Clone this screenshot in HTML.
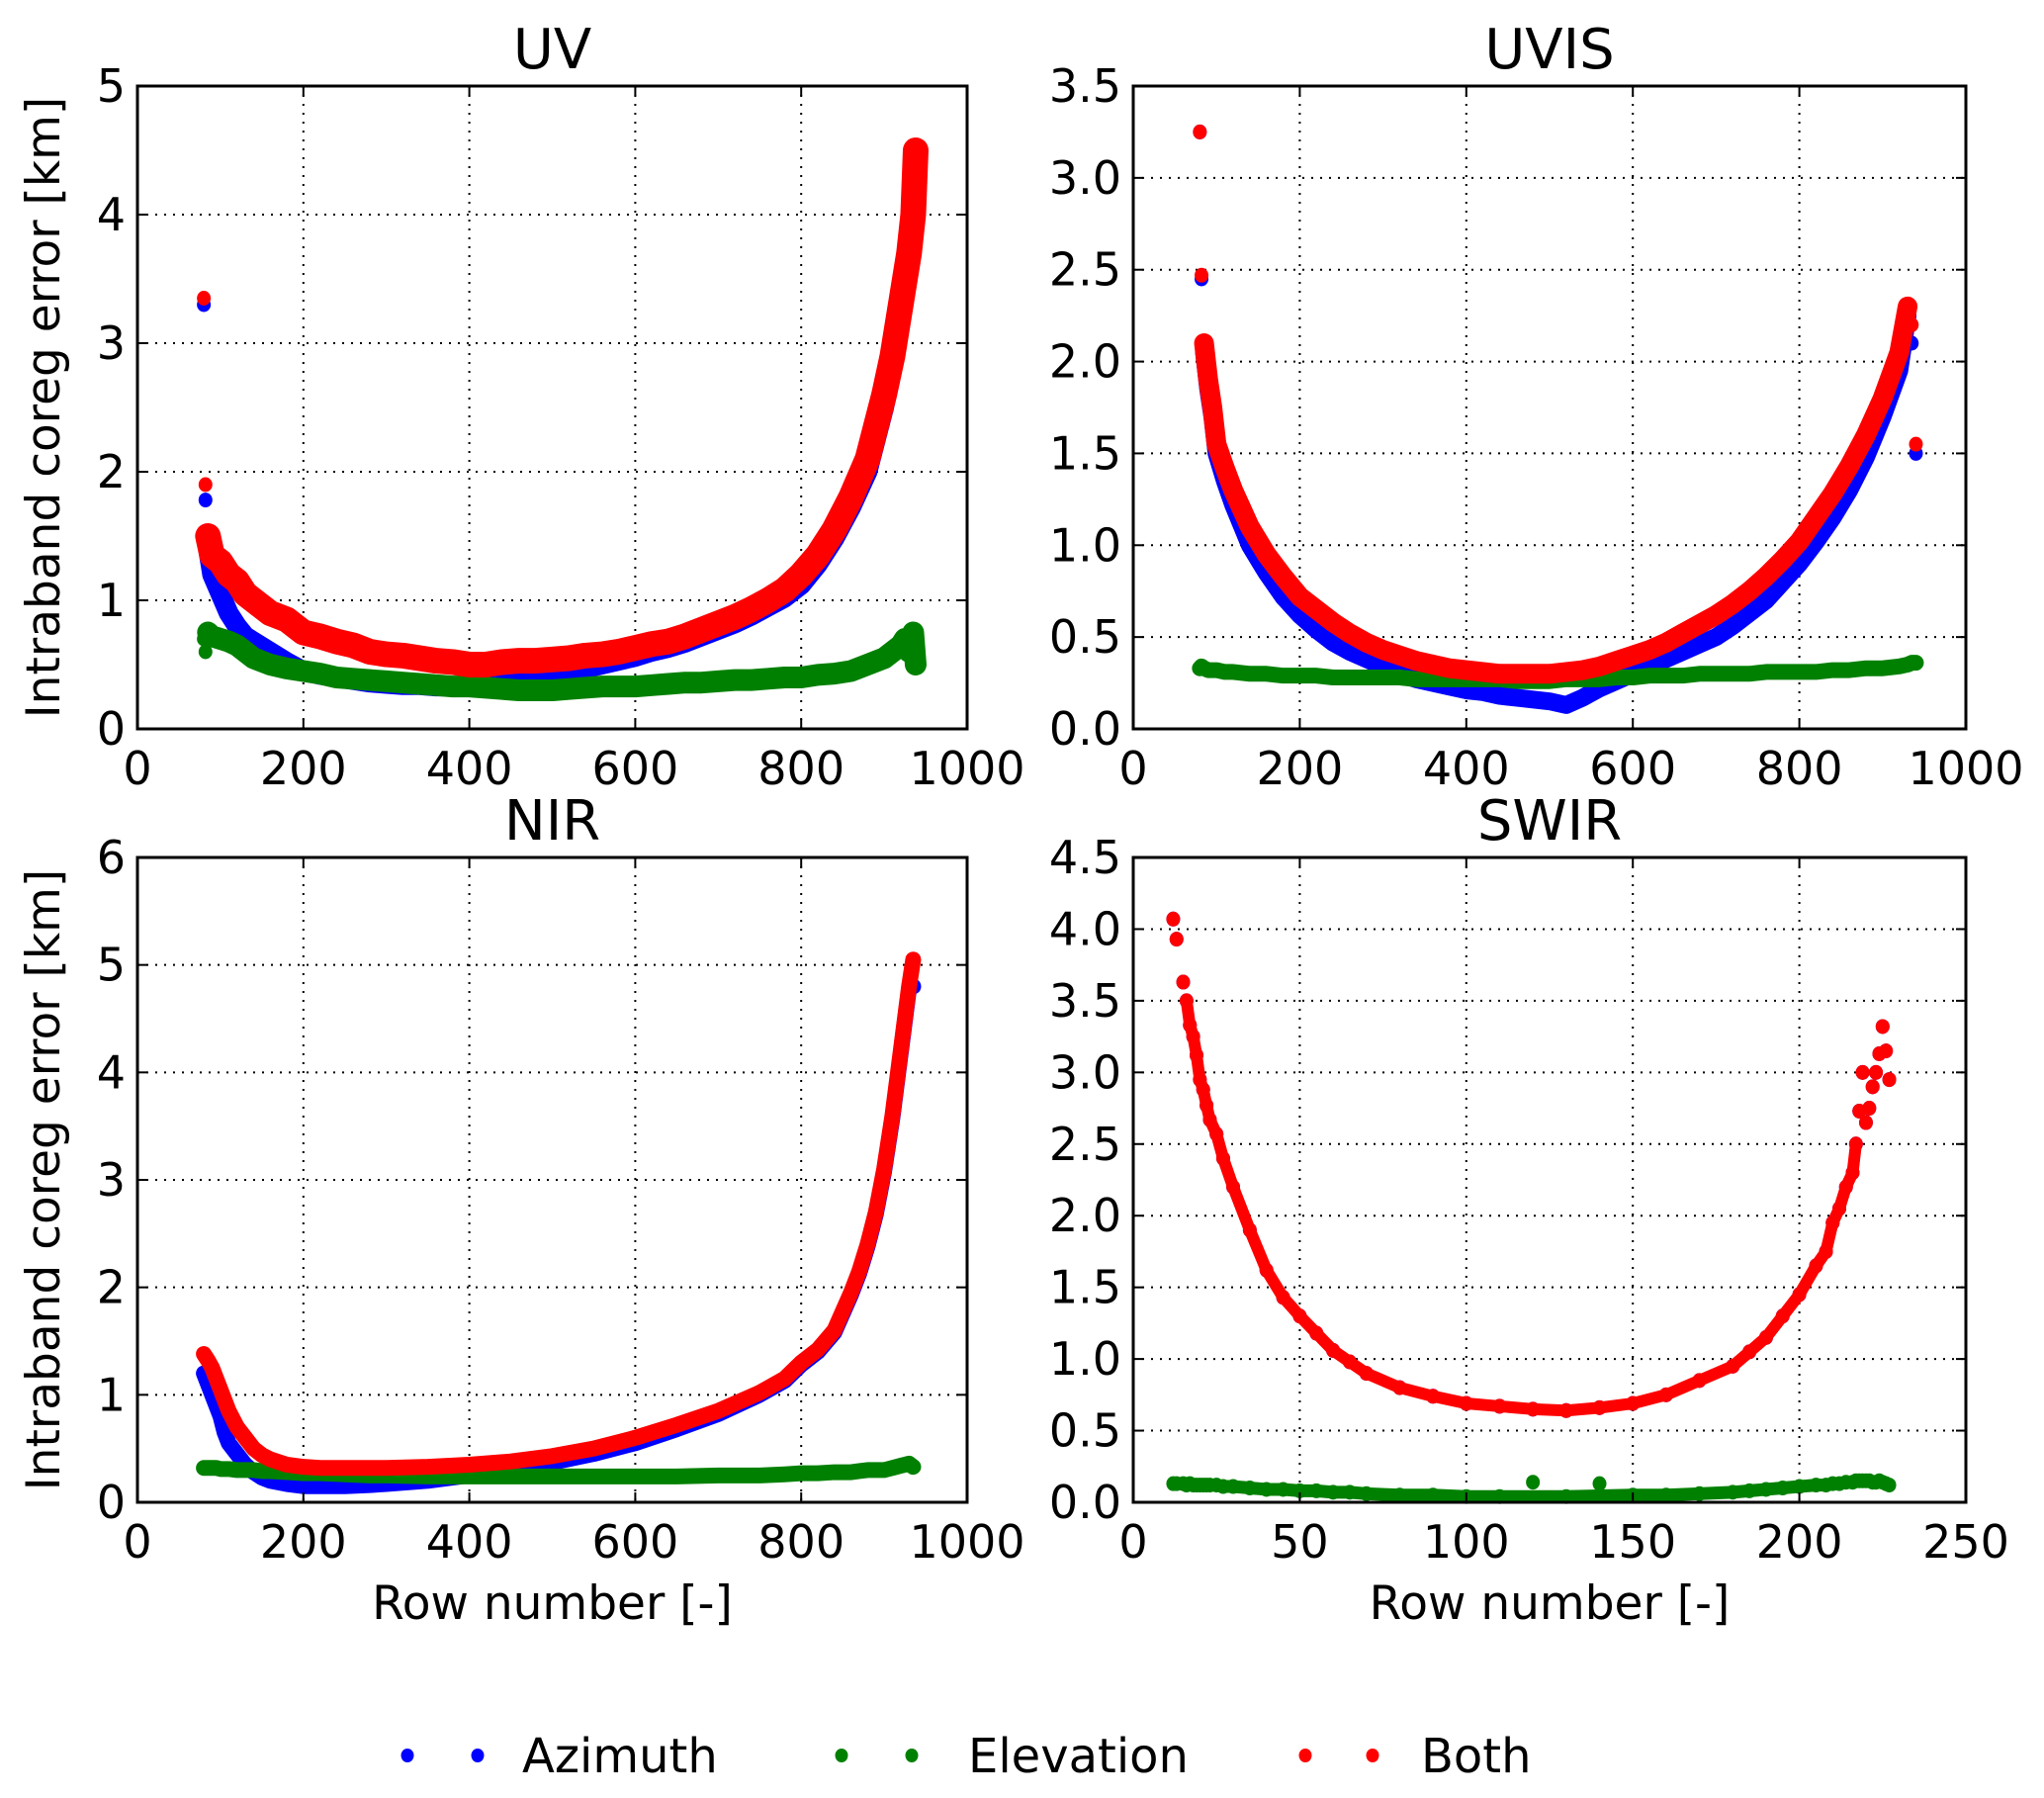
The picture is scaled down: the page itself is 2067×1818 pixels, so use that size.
<!DOCTYPE html>
<html><head><meta charset="utf-8"><style>
html,body{margin:0;padding:0;background:#fff;}
svg{display:block;font-family:"DejaVu Sans","Liberation Sans",sans-serif;}
</style></head><body>
<svg id="fig" width="2067" height="1818" viewBox="0 0 2067 1818" xmlns="http://www.w3.org/2000/svg"></svg>
<script>
// ---- UV panel data ----
const uvX      = [80,82,85,90,100,110,120,130,140,160,180,200,220,240,260,280,300,320,340,360,380,400,420,440,460,480,500,520,540,560,580,600,620,640,660,680,700,720,740,760,780,800,820,840,860,880,900,910,920,925,930,935,938];
const uvBoth   = [3.35,1.9,1.5,1.35,1.3,1.2,1.15,1.05,1.0,0.9,0.85,0.75,0.72,0.68,0.65,0.6,0.58,0.57,0.55,0.53,0.52,0.5,0.5,0.52,0.53,0.53,0.54,0.55,0.57,0.58,0.6,0.63,0.66,0.68,0.72,0.77,0.82,0.87,0.93,1.0,1.08,1.2,1.35,1.55,1.8,2.1,2.6,2.9,3.3,3.5,3.7,4.0,4.5];
const uvAzim   = [3.3,1.78,1.4,1.2,1.05,0.9,0.8,0.72,0.68,0.6,0.52,0.45,0.42,0.4,0.38,0.36,0.35,0.34,0.34,0.33,0.33,0.33,0.34,0.36,0.38,0.4,0.42,0.44,0.47,0.5,0.53,0.56,0.6,0.63,0.67,0.72,0.77,0.82,0.88,0.95,1.02,1.12,1.28,1.48,1.72,2.0,2.5,2.8,3.2,3.4,3.6,3.9,4.45];
const uvElev   = [0.7,0.6,0.75,0.72,0.7,0.68,0.65,0.6,0.55,0.5,0.47,0.45,0.43,0.4,0.39,0.38,0.37,0.36,0.35,0.34,0.33,0.33,0.32,0.31,0.3,0.3,0.3,0.31,0.32,0.33,0.33,0.33,0.34,0.35,0.36,0.36,0.37,0.38,0.38,0.39,0.4,0.4,0.42,0.43,0.45,0.5,0.55,0.6,0.65,0.7,0.6,0.75,0.5];
// ---- UVIS panel data ----
const uvisX    = [80,82,85,90,95,100,110,120,140,160,180,200,220,240,260,280,300,320,340,360,380,400,420,440,460,480,500,520,540,560,580,600,620,640,660,680,700,720,740,760,780,800,820,840,860,880,900,920,930,935,940];
const uvisBoth = [3.25,2.47,2.1,1.9,1.75,1.55,1.42,1.3,1.1,0.95,0.83,0.72,0.65,0.58,0.52,0.47,0.43,0.4,0.37,0.35,0.33,0.32,0.31,0.3,0.3,0.3,0.3,0.31,0.32,0.34,0.37,0.4,0.43,0.47,0.52,0.57,0.62,0.68,0.75,0.83,0.92,1.02,1.15,1.28,1.43,1.6,1.8,2.05,2.3,2.2,1.55];
const uvisAzim = [3.25,2.45,2.05,1.85,1.7,1.5,1.35,1.22,1.0,0.85,0.72,0.62,0.54,0.47,0.42,0.38,0.34,0.3,0.27,0.25,0.23,0.21,0.2,0.18,0.17,0.16,0.15,0.13,0.17,0.22,0.26,0.3,0.34,0.38,0.42,0.46,0.5,0.56,0.63,0.7,0.8,0.9,1.02,1.15,1.3,1.48,1.7,1.95,2.25,2.1,1.5];
const uvisElev = [0.33,0.34,0.33,0.32,0.32,0.32,0.31,0.31,0.3,0.3,0.29,0.29,0.29,0.28,0.28,0.28,0.28,0.28,0.27,0.27,0.27,0.27,0.27,0.27,0.26,0.26,0.26,0.27,0.27,0.27,0.28,0.28,0.29,0.29,0.29,0.3,0.3,0.3,0.3,0.31,0.31,0.31,0.31,0.32,0.32,0.33,0.33,0.34,0.35,0.36,0.36];
// ---- NIR panel data ----
const nirX     = [80,85,90,95,100,105,110,120,130,140,150,160,180,200,220,250,280,300,350,400,450,500,550,600,650,700,750,780,800,820,840,860,870,880,890,900,905,910,915,920,925,930,935];
const nirBoth  = [1.38,1.32,1.25,1.15,1.05,0.95,0.85,0.7,0.6,0.5,0.44,0.4,0.35,0.33,0.32,0.32,0.32,0.32,0.33,0.35,0.38,0.43,0.5,0.6,0.72,0.85,1.02,1.15,1.3,1.42,1.6,1.95,2.15,2.4,2.7,3.1,3.35,3.6,3.9,4.2,4.5,4.8,5.05];
const nirAzim  = [1.2,1.1,1.0,0.9,0.8,0.65,0.55,0.45,0.35,0.28,0.23,0.2,0.17,0.15,0.15,0.15,0.16,0.17,0.2,0.25,0.3,0.37,0.45,0.55,0.68,0.82,1.0,1.13,1.28,1.4,1.58,1.93,2.13,2.38,2.68,3.08,3.33,3.58,3.88,4.18,4.48,4.78,4.8];
const nirElev  = [0.32,0.32,0.32,0.32,0.31,0.31,0.31,0.3,0.3,0.3,0.29,0.29,0.28,0.27,0.27,0.26,0.25,0.25,0.24,0.24,0.24,0.24,0.24,0.24,0.24,0.25,0.25,0.26,0.27,0.27,0.28,0.28,0.29,0.3,0.3,0.3,0.31,0.32,0.33,0.34,0.35,0.36,0.33];
// ---- SWIR panel data ----
const swirX    = [12,13,15,16,17,18,19,20,21,22,23,25,27,30,35,40,45,50,55,60,65,70,80,90,100,110,120,130,140,150,160,170,180,185,190,195,200,205,208,210,212,214,216,217,218,219,220,221,222,223,224,225,226,227];
const swirBoth = [4.07,3.93,3.63,3.5,3.33,3.25,3.12,2.95,2.88,2.77,2.67,2.57,2.4,2.2,1.9,1.62,1.43,1.3,1.18,1.06,0.98,0.9,0.8,0.74,0.69,0.67,0.65,0.64,0.66,0.69,0.75,0.85,0.95,1.05,1.15,1.3,1.45,1.65,1.75,1.95,2.05,2.2,2.3,2.5,2.73,3.0,2.65,2.75,2.9,3.0,3.13,3.32,3.15,2.95];
const swirElev = [0.13,0.13,0.13,0.12,0.13,0.12,0.12,0.12,0.12,0.12,0.12,0.12,0.11,0.11,0.1,0.09,0.09,0.08,0.08,0.07,0.07,0.06,0.05,0.05,0.04,0.04,0.14,0.04,0.13,0.05,0.05,0.06,0.07,0.08,0.09,0.1,0.11,0.12,0.12,0.13,0.13,0.14,0.14,0.15,0.15,0.15,0.15,0.15,0.14,0.14,0.15,0.14,0.13,0.12];
const swirElevOutliers = [26,28];

const xTicks1000 = [0,200,400,600,800,1000];
const xTicks250  = [0,50,100,150,200,250];
const yTicksUV   = [0,1,2,3,4,5];
const yTicksUVIS = [0,0.5,1.0,1.5,2.0,2.5,3.0,3.5];
const yTicksNIR  = [0,1,2,3,4,5,6];
const yTicksSWIR = [0,0.5,1.0,1.5,2.0,2.5,3.0,3.5,4.0,4.5];

const NS = 'http://www.w3.org/2000/svg';
const fig = document.getElementById('fig');
function mk(tag, attrs, parent){
  const e = document.createElementNS(NS, tag);
  for (const k in attrs) e.setAttribute(k, attrs[k]);
  (parent||fig).appendChild(e);
  return e;
}
const BLUE='#0000ff', GREEN='#008000', RED='#ff0000';

function panel(name, title, box, xmax, ymax, xt, yt, ydec, series, showXlabel, showYlabel){
  const g = mk('g', {});
  
  
  const {l,r,t,b} = box;
  const sx = v => l + v/xmax*(r-l);
  const sy = v => b - v/ymax*(b-t);
  xt.forEach(v => { if (v>0 && v<xmax){ const ln = mk('line',{x1:sx(v),x2:sx(v),y1:t,y2:b,stroke:'#000','stroke-width':2,'stroke-dasharray':'2,7'},g);
      } });
  yt.forEach(v => { if (v>0 && v<ymax){ const ln = mk('line',{x1:l,x2:r,y1:sy(v),y2:sy(v),stroke:'#000','stroke-width':2,'stroke-dasharray':'2,7'},g);
      } });
  series.forEach(s => {
    const sg = mk('g', {fill:s.color}, g);
    
    
    if (s.band){
      const from = s.bandFrom || 0, to = s.bandTo || s.xs.length, skip = s.skip || [];
      const pts = [];
      for (let i = from; i < to; i++) if (skip.indexOf(i) < 0) pts.push(sx(s.xs[i]) + ',' + sy(s.ys[i]));
      const pl = mk('polyline', {points:pts.join(' '), fill:'none', stroke:s.color, 'stroke-width':s.band, 'stroke-linecap':'round', 'stroke-linejoin':'round'}, sg);
      
      
    }
    s.xs.forEach((xv,i) => {
      const c = mk('ellipse', {cx:sx(xv), cy:sy(s.ys[i]), rx:7, ry:7.5}, sg);
      
      
    });
  });
  const fr = mk('rect',{x:l,y:t,width:r-l,height:b-t,fill:'none',stroke:'#000','stroke-width':3},g);
  
  
  xt.forEach(v => {
    mk('line',{x1:sx(v),x2:sx(v),y1:b,y2:b-10,stroke:'#000','stroke-width':2},g);
    mk('line',{x1:sx(v),x2:sx(v),y1:t,y2:t+10,stroke:'#000','stroke-width':2},g);
    const tx = mk('text',{x:sx(v),y:b+56,'font-size':46,'text-anchor':'middle'},g);
    tx.textContent = String(v);
    
    
  });
  yt.forEach(v => {
    mk('line',{x1:l,x2:l+10,y1:sy(v),y2:sy(v),stroke:'#000','stroke-width':2},g);
    mk('line',{x1:r,x2:r-10,y1:sy(v),y2:sy(v),stroke:'#000','stroke-width':2},g);
    const tx = mk('text',{x:l-12,y:sy(v)+16,'font-size':46,'text-anchor':'end'},g);
    tx.textContent = ydec ? v.toFixed(1) : String(v);
    
    
  });
  const tt = mk('text',{x:(l+r)/2,y:t-18,'font-size':56,'text-anchor':'middle'},g);
  tt.textContent = title;
  
  
  if (showXlabel){
    const xl = mk('text',{x:(l+r)/2,y:b+118,'font-size':47,'text-anchor':'middle'},g);
    xl.textContent = 'Row number [-]';
    
    
  }
  if (showYlabel){
    const cy = (t+b)/2;
    const yl = mk('text',{x:60,y:cy,'font-size':47,'text-anchor':'middle',transform:'rotate(-90 60 '+cy+')'},g);
    yl.textContent = 'Intraband coreg error [km]';
    
    
  }
}

panel('uv','UV',{l:139,r:978,t:87,b:737},1000,5,xTicks1000,yTicksUV,false,
  [{key:'azimuth',color:BLUE,xs:uvX,ys:uvAzim,band:20,bandFrom:2},{key:'elevation',color:GREEN,xs:uvX,ys:uvElev,band:22,bandFrom:2},{key:'both',color:RED,xs:uvX,ys:uvBoth,band:26,bandFrom:2}],false,true);
panel('uvis','UVIS',{l:1146,r:1988,t:87,b:737},1000,3.5,xTicks1000,yTicksUVIS,true,
  [{key:'azimuth',color:BLUE,xs:uvisX,ys:uvisAzim,band:18,bandFrom:2,bandTo:49},{key:'elevation',color:GREEN,xs:uvisX,ys:uvisElev,band:16},{key:'both',color:RED,xs:uvisX,ys:uvisBoth,band:20,bandFrom:2,bandTo:49}],false,false);
panel('nir','NIR',{l:139,r:978,t:867,b:1519},1000,6,xTicks1000,yTicksNIR,false,
  [{key:'azimuth',color:BLUE,xs:nirX,ys:nirAzim,band:16},{key:'elevation',color:GREEN,xs:nirX,ys:nirElev,band:16},{key:'both',color:RED,xs:nirX,ys:nirBoth,band:16}],true,true);
panel('swir','SWIR',{l:1146,r:1988,t:867,b:1519},250,4.5,xTicks250,yTicksSWIR,true,
  [{key:'azimuth',color:BLUE,xs:swirX,ys:swirBoth},{key:'elevation',color:GREEN,xs:swirX,ys:swirElev,band:13,skip:swirElevOutliers},{key:'both',color:RED,xs:swirX,ys:swirBoth,band:12,bandFrom:3,bandTo:44}],true,false);

const lg = mk('g',{});


[[412,483,528,BLUE,'Azimuth'],[851,922,979,GREEN,'Elevation'],[1320,1388,1437,RED,'Both']].forEach(e => {
  const eg = mk('g',{},lg);
  
  
  mk('ellipse',{cx:e[0],cy:1775,rx:6.5,ry:7,fill:e[3]},eg);
  mk('ellipse',{cx:e[1],cy:1775,rx:6.5,ry:7,fill:e[3]},eg);
  const t = mk('text',{x:e[2],y:1792,'font-size':48},eg);
  t.textContent = e[4];
});
</script>
</body></html>
